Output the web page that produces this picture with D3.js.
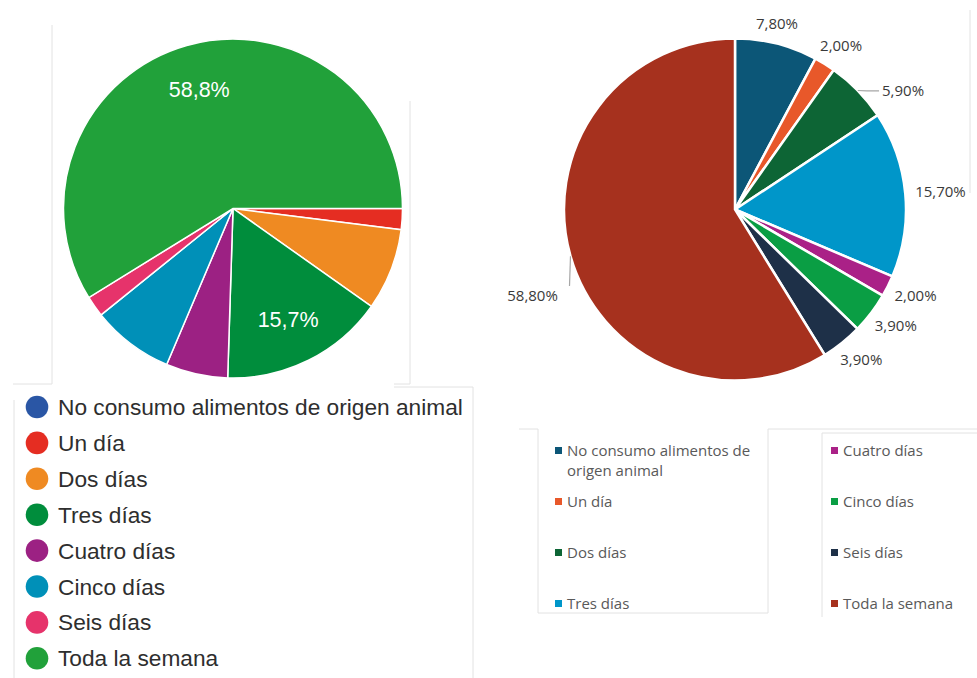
<!DOCTYPE html>
<html>
<head>
<meta charset="utf-8">
<script src="https://cdn.jsdelivr.net/npm/d3@7"></script>
<style>
  body { margin: 0; background: #fff; }
  svg { display: block; }
</style>
</head>
<body>
<div id="chart"></div>
<script>
// Categories shared by both charts
var categories = [
    "No consumo alimentos de origen animal",
    "Un día",
    "Dos días",
    "Tres días",
    "Cuatro días",
    "Cinco días",
    "Seis días",
    "Toda la semana"
];

// Left chart (Google Forms style) values, in %
var leftValues = [0, 2.0, 7.8, 15.7, 5.9, 7.8, 2.0, 58.8];
var leftColors = ["#2a56a5", "#e52d22", "#ef8a22", "#008d3c", "#9c2183", "#0090b8", "#e6336b", "#21a13a"];

// Right chart (Excel style) values, in %
var rightValues = [7.8, 2.0, 5.9, 15.7, 2.0, 3.9, 3.9, 58.8];
var rightColors = ["#0c5677", "#e8582a", "#0d6535", "#0096c9", "#aa2187", "#0a9e44", "#1e3048", "#a6311e"];
var rightLabels = ["7,80%", "2,00%", "5,90%", "15,70%", "2,00%", "3,90%", "3,90%", "58,80%"];

var svgWidth = 977;
var svgHeight = 678;

var svg = d3.select("#chart")
    .append("svg")
    .attr("width", svgWidth)
    .attr("height", svgHeight);

// Faint frame lines left over from the screenshots
var frames = [
    [52, 25, 52, 384], [13, 384, 52, 384],
    [410, 101, 410, 384], [394, 384, 410, 384],
    [394, 387, 473, 387], [473, 387, 473, 678], [14, 400, 14, 678],
    [519, 429, 538, 429], [538, 429, 538, 613], [538, 613, 768, 613],
    [768, 429, 768, 613], [768, 429, 977, 429],
    [822, 433, 822, 617], [822, 433, 977, 433],
    [970, 10, 970, 193]
];
svg.append("g").selectAll("line")
    .data(frames)
    .enter().append("line")
    .attr("x1", d => d[0]).attr("y1", d => d[1])
    .attr("x2", d => d[2]).attr("y2", d => d[3])
    .attr("stroke", "#e2e2e2")
    .attr("stroke-width", 1);

// ---------- Left pie ----------
var leftR = 169.5;
var leftGroup = svg.append("g")
    .attr("transform", "translate(233, 208.5)");

var leftPie = d3.pie()
    .sort(null)
    .value(d => d)
    .startAngle(Math.PI / 2)
    .endAngle(Math.PI / 2 + 2 * Math.PI);

var leftArc = d3.arc().innerRadius(0).outerRadius(leftR);
var leftLabelArc = d3.arc().innerRadius(leftR * 0.73).outerRadius(leftR * 0.73);

var leftData = leftPie(leftValues);

leftGroup.selectAll("path")
    .data(leftData)
    .enter().append("path")
    .attr("d", leftArc)
    .attr("fill", (d, i) => leftColors[i])
    .attr("stroke", "#fff")
    .attr("stroke-width", d => d.value > 0 ? 1.5 : 0);

leftGroup.selectAll("text")
    .data(leftData.filter(d => d.value >= 10))
    .enter().append("text")
    .attr("transform", d => `translate(${leftLabelArc.centroid(d)})`)
    .attr("text-anchor", "middle")
    .attr("dy", "0.36em")
    .attr("fill", "#fff")
    .style("font-family", "'Liberation Sans', Arial, sans-serif")
    .style("font-size", "21.5px")
    .text(d => d.value.toFixed(1).replace(".", ",") + "%");

// Left legend
var leftLegend = svg.append("g")
    .attr("transform", "translate(37, 407)");

var leftItems = leftLegend.selectAll("g")
    .data(categories)
    .enter().append("g")
    .attr("transform", (d, i) => `translate(0, ${i * 35.9})`);

leftItems.append("circle")
    .attr("r", 11.3)
    .attr("fill", (d, i) => leftColors[i]);

leftItems.append("text")
    .attr("x", 21)
    .attr("y", 8)
    .attr("fill", "#2e2e2e")
    .style("font-family", "'Liberation Sans', Arial, sans-serif")
    .style("font-size", "22.7px")
    .text(d => d);

// ---------- Right pie ----------
var rightR = 171;
var rcx = 735, rcy = 209.5;
var rightGroup = svg.append("g")
    .attr("transform", `translate(${rcx}, ${rcy})`);

var rightPie = d3.pie()
    .sort(null)
    .value(d => d);

var rightArc = d3.arc().innerRadius(0).outerRadius(rightR);
var rightData = rightPie(rightValues);

rightGroup.selectAll("path")
    .data(rightData)
    .enter().append("path")
    .attr("d", rightArc)
    .attr("fill", (d, i) => rightColors[i])
    .attr("stroke", "#fff")
    .attr("stroke-width", 2.5);

// Outside-end labels; two of them were dragged away and get leader lines
var labelFont = "'Open Sans', sans-serif";
var labelNudge = { 0: [-7, 0], 2: [23, 15], 7: [-4, 34] };

rightData.forEach(function(d, i) {
    var mid = (d.startAngle + d.endAngle) / 2;
    var s = Math.sin(mid), c = Math.cos(mid);
    var txt = rightGroup.append("text")
        .attr("text-anchor", "middle")
        .attr("fill", "#3a3a3a")
        .style("font-family", labelFont)
        .style("font-size", "15px")
        .text(rightLabels[i]);
    var w = txt.node().getComputedTextLength();
    var h = 22;
    var pad = rightR + 10;
    var x = pad * s + (w / 2) * s;
    var y = -pad * c - (h / 2) * c;
    var nudge = labelNudge[i] || [0, 0];
    x += nudge[0];
    y += nudge[1];
    txt.attr("x", x).attr("y", y).attr("dy", "0.35em");

    if (i === 2 || i === 7) {
        var ex = rightR * s, ey = -rightR * c;
        var pts;
        if (i === 2) {
            pts = [[ex, ey], [ex + 9, y], [x - w / 2 - 3, y]];
        } else {
            pts = [[ex, ey], [ex - 1, y - 10]];
        }
        rightGroup.append("path")
            .attr("d", d3.line()(pts))
            .attr("fill", "none")
            .attr("stroke", "#a6a6a6")
            .attr("stroke-width", 1.2);
    }
});

// Right legend, two columns
var legendCols = [567, 843];
var legendRows = [451, 502, 553, 604];

var rightLegend = svg.append("g");
categories.forEach(function(name, i) {
    var col = Math.floor(i / 4);
    var row = i % 4;
    var lx = legendCols[col];
    var ly = legendRows[row];
    rightLegend.append("rect")
        .attr("x", lx - 12)
        .attr("y", ly - 4)
        .attr("width", 7)
        .attr("height", 7)
        .attr("fill", rightColors[i]);
    var t = rightLegend.append("text")
        .attr("x", lx)
        .attr("y", ly + 5)
        .attr("fill", "#595959")
        .style("font-family", labelFont)
        .style("font-size", "15px");
    // First category wraps on two lines
    var lines = i === 0 ? ["No consumo alimentos de", "origen animal"] : [name];
    lines.forEach(function(line, k) {
        t.append("tspan")
            .attr("x", lx)
            .attr("dy", k === 0 ? 0 : 20)
            .text(line);
    });
});
</script>
</body>
</html>
